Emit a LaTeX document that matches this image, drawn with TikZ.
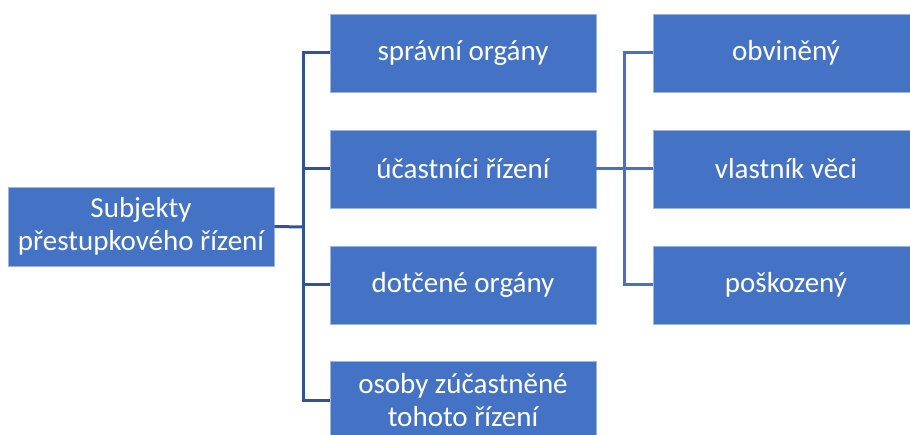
\documentclass[tikz,border=0pt]{standalone}
\usepackage{fontspec}
\setmainfont{Carlito}
\definecolor{boxblue}{HTML}{4472C4}
\definecolor{edgeblue}{HTML}{9DB4E0}
\definecolor{linedark}{HTML}{2F5597}
\definecolor{linemid}{HTML}{4472C4}
\begin{document}
\begin{tikzpicture}[x=1pt,y=-1pt,
  tbox/.style={draw=edgeblue,line width=0.8pt,fill=boxblue,text=white,
    minimum width=266pt,minimum height=78pt,inner sep=0pt,align=center,
    font=\fontsize{29}{33}\selectfont},
  conn/.style={line width=3pt,linedark},
  conn2/.style={line width=3pt,linemid}]
\useasboundingbox (0,0) rectangle (910,435);
\node[tbox,minimum width=266pt,minimum height=79pt] (root) at (141,226.5) {Subjekty\\přestupkového řízení};
\node[tbox] (a1) at (463,53) {správní orgány};
\node[tbox] (a2) at (463,169) {účastníci řízení};
\node[tbox] (a3) at (463,285) {dotčené orgány};
\node[tbox] (a4) at (463,400) {osoby zúčastněné\\tohoto řízení};
\node[tbox] (b1) at (786,53) {obviněný};
\node[tbox] (b2) at (786,169) {vlastník věci};
\node[tbox] (b3) at (786,285) {poškozený};
\coordinate (j1) at (303,227);
\coordinate (j2) at (624,169);
\draw[conn] (root.east) -- (j1);
\draw[conn] (a1.west) -- (j1 |- a1.west) -- (j1 |- a4.west) -- (a4.west);
\draw[conn] (a2.west) -- (j1 |- a2.west);
\draw[conn] (a3.west) -- (j1 |- a3.west);
\draw[conn2] (a2.east) -- (b2.west);
\draw[conn2] (b1.west) -- (j2 |- b1.west) -- (j2 |- b3.west) -- (b3.west);
\end{tikzpicture}
\end{document}
